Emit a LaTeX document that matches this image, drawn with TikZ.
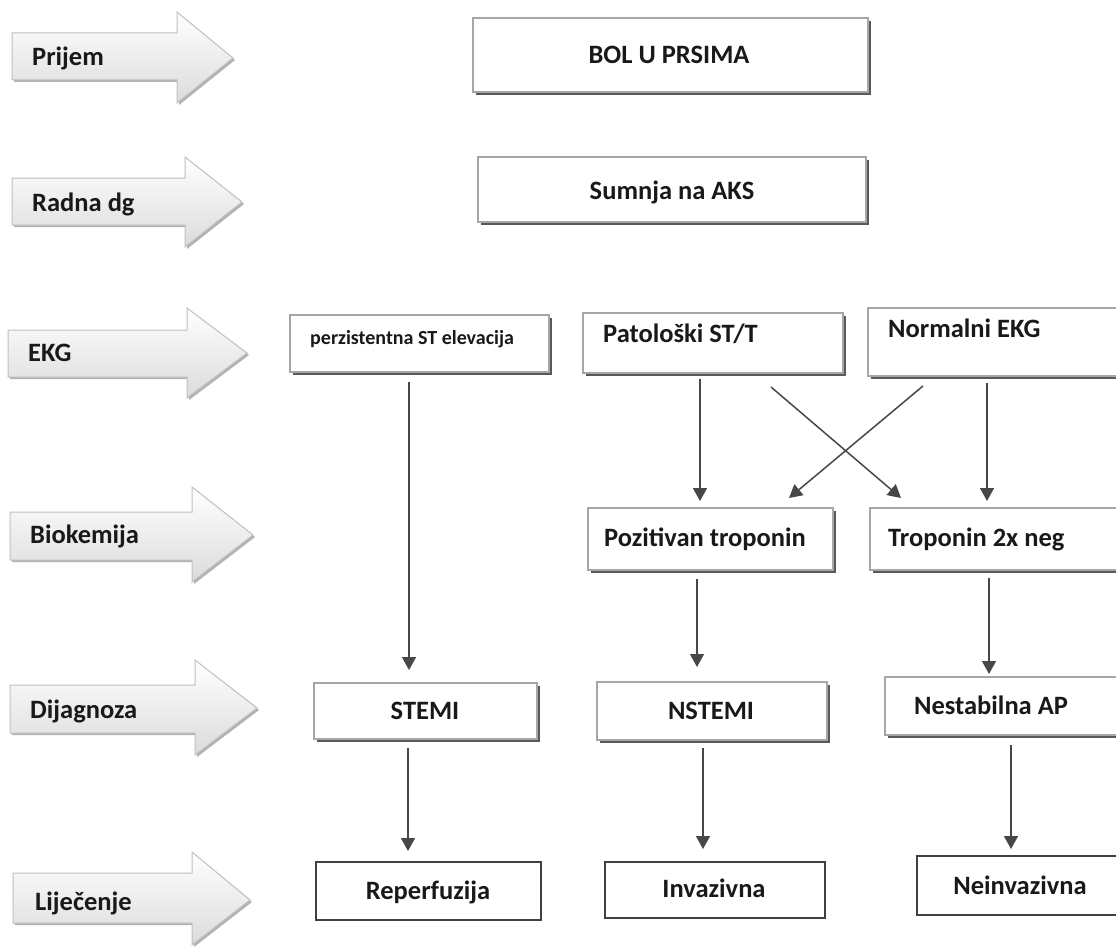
\documentclass[tikz,border=0pt]{standalone}
\usepackage{fontspec}
\setmainfont{Carlito}
\usetikzlibrary{arrows.meta,shadows,fit}
\begin{document}
\begin{tikzpicture}[x=1pt,y=-1pt,
  box/.style={draw=black!35, line width=1.6pt, fill=white, inner sep=0pt,
    drop shadow={shadow xshift=3pt, shadow yshift=-3pt, fill=black!65, opacity=1}},
  plainbox/.style={draw=black!75, line width=1.3pt, fill=white, inner sep=0pt},
  lbl/.style={font=\bfseries\fontsize{26.5}{31}\selectfont, text=black!90, inner sep=0pt},
  smalllbl/.style={font=\bfseries\fontsize{20}{24}\selectfont, text=black!90, inner sep=0pt},
  stagelbl/.style={font=\bfseries\fontsize{26.5}{31}\selectfont, text=black!90, inner sep=0pt},
  conn/.style={draw=black!72, line width=1.5pt, -{Triangle[width=14pt,length=13pt]}},
  stage/.style={draw=black!25, line width=1pt, top color=white, bottom color=black!14,
    drop shadow={shadow xshift=2pt, shadow yshift=-2pt, fill=black!30, opacity=1}}]
\clip (0,0) rectangle (1116,947);
\fill[white] (0,0) rectangle (1116,947);

% stage arrows
\path[stage] (12,33) -- (177,33) -- (177,12) -- (233,58) -- (177,103) -- (177,80) -- (12,80) -- cycle;
\path[stage] (12,178) -- (185,178) -- (185,157) -- (242,202) -- (185,247) -- (185,225) -- (12,225) -- cycle;
\path[stage] (8,330) -- (187,330) -- (187,308) -- (247,353) -- (187,398) -- (187,377) -- (8,377) -- cycle;
\path[stage] (10,512) -- (192,512) -- (192,487) -- (253,535) -- (192,582) -- (192,560) -- (10,560) -- cycle;
\path[stage] (10,685) -- (195,685) -- (195,660) -- (257,708) -- (195,755) -- (195,733) -- (10,733) -- cycle;
\path[stage] (13,873) -- (192,873) -- (192,852) -- (250,900) -- (192,945) -- (192,923) -- (13,923) -- cycle;
\node[stagelbl, anchor=base west] (s1) at (32,66) {Prijem};
\node[stagelbl, anchor=base west] (s2) at (32,211) {Radna dg};
\node[stagelbl, anchor=base west] (s3) at (28,361) {EKG};
\node[stagelbl, anchor=base west] (s4) at (30,543) {Biokemija};
\node[stagelbl, anchor=base west] (s5) at (30,718) {Dijagnoza};
\node[stagelbl, anchor=base west] (s6) at (35,910) {Liječenje};

% boxes
\node[box, fit={(473,18) (868,92)}] (bol) {};
\node[box, fit={(478,157) (866,222)}] (aks) {};
\node[box, fit={(290,315) (549,372)}] (pers) {};
\node[box, fit={(583,313) (843,373)}] (pat) {};
\node[box, fit={(868,308) (1125,376)}] (norm) {};
\node[box, fit={(588,508) (833,570)}] (poz) {};
\node[box, fit={(870,508) (1125,570)}] (trop) {};
\node[box, fit={(314,683) (537,739)}] (stemi) {};
\node[box, fit={(597,682) (827,740)}] (nstemi) {};
\node[box, fit={(885,677) (1125,735)}] (nest) {};
\node[plainbox, fit={(316,862) (541,920)}] (rep) {};
\node[plainbox, fit={(605,862) (825,918)}] (inv) {};
\node[plainbox, fit={(917,856) (1125,915)}] (neinv) {};

% texts
\node[lbl, anchor=base] (tbol) at (669,64) {BOL U PRSIMA};
\node[lbl, anchor=base] (taks) at (672,199) {Sumnja na AKS};
\node[smalllbl, anchor=base west] (tpers) at (310,344) {perzistentna ST elevacija};
\node[lbl, anchor=base west] (tpat) at (603,342) {Patološki ST/T};
\node[lbl, anchor=base west] (tnorm) at (888,337) {Normalni EKG};
\node[lbl, anchor=base] (tpoz) at (705,546) {Pozitivan troponin};
\node[lbl, anchor=base west] (ttrop) at (888,546) {Troponin 2x neg};
\node[lbl, anchor=base] (tstemi) at (425,719) {STEMI};
\node[lbl, anchor=base] (tnstemi) at (711,719) {NSTEMI};
\node[lbl, anchor=base] (tnest) at (991,714) {Nestabilna AP};
\node[lbl, anchor=base] (trep) at (428,899) {Reperfuzija};
\node[lbl, anchor=base] (tinv) at (714,897) {Invazivna};
\node[lbl, anchor=base] (tneinv) at (1020,894) {Neinvazivna};

% connector ends
\coordinate (a1) at (409,382); \coordinate (b1) at (409,670);
\coordinate (a2) at (700,379); \coordinate (b2) at (700,501);
\coordinate (a3) at (771,387); \coordinate (b3) at (901,498);
\coordinate (a4) at (923,386); \coordinate (b4) at (789,498);
\coordinate (a5) at (987,383); \coordinate (b5) at (987,501);
\coordinate (a6) at (697,579); \coordinate (b6) at (697,667);
\coordinate (a7) at (989,578); \coordinate (b7) at (989,674);
\coordinate (a8) at (408,748); \coordinate (b8) at (408,851);
\coordinate (a9) at (703,748); \coordinate (b9) at (703,849);
\coordinate (a10) at (1011,745); \coordinate (b10) at (1011,849);
\foreach \i in {1,...,10} { \draw[conn] (a\i) -- (b\i); }
\end{tikzpicture}
\end{document}
